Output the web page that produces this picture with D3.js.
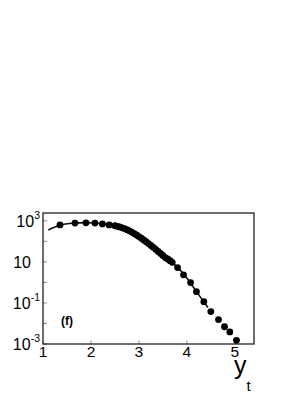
<!DOCTYPE html>
<html>
<head>
<meta charset="utf-8">
<script src="https://cdn.jsdelivr.net/npm/d3@7"></script>
<style>
  body { margin: 0; background: #fff; }
  svg { display: block; font-family: "Liberation Sans", Arial, sans-serif; }
</style>
</head>
<body>
<svg width="305" height="394"></svg>
<script>
// data points (y_t, log10 of yield)
var ptX = [1.354, 1.667, 1.896, 2.083, 2.24, 2.38, 2.5,
           2.55, 2.6, 2.65, 2.7, 2.75, 2.8, 2.85, 2.9, 2.95, 3.0,
           3.05, 3.1, 3.15, 3.2, 3.25, 3.3, 3.35, 3.4, 3.45, 3.5,
           3.55, 3.6, 3.65, 3.694, 3.806, 3.93, 4.077, 4.2, 4.354,
           4.5, 4.66, 4.785, 4.896, 5.035];
var ptLogY = [2.80, 2.89, 2.90, 2.89, 2.85, 2.80, 2.76,
              2.73, 2.70, 2.66, 2.62, 2.57, 2.51, 2.45, 2.38, 2.31, 2.23,
              2.15, 2.07, 1.98, 1.89, 1.80, 1.71, 1.61, 1.51, 1.41, 1.31,
              1.21, 1.14, 1.06, 0.98, 0.72, 0.37, -0.01, -0.45, -0.94,
              -1.42, -1.81, -2.16, -2.41, -2.82];

// fit curve
var fitX = [1.11, 1.35, 1.6, 1.9, 2.2, 2.5, 2.8, 3.1, 3.4, 3.7, 4.0, 4.2, 4.44];
var fitLogY = [2.55, 2.78, 2.88, 2.91, 2.87, 2.74, 2.51, 2.07, 1.51, 0.96, 0.22, -0.45, -1.22];

var xTicks = [1, 2, 3, 4, 5];
var yTicks = [1e-3, 1e-2, 1e-1, 1, 10, 100, 1000];
var yLabels = [{v: 1e-3, base: '10', exp: '-3'}, {v: 1e-1, base: '10', exp: '-1'},
               {v: 10, base: '10', exp: ''}, {v: 1e3, base: '10', exp: '3'}];

var svg = d3.select('svg');

var x = d3.scaleLinear().domain([1, 5.4]).range([43, 254]);
var y = d3.scaleLog().domain([1e-3, Math.pow(10, 3.38)]).range([344, 213]);

// ticks
svg.append('g').selectAll('line').data(xTicks).enter().append('line')
    .attr('x1', function(d){ return x(d); })
    .attr('x2', function(d){ return x(d); })
    .attr('y1', 344).attr('y2', 340.5)
    .attr('stroke', '#888').attr('stroke-width', 1);

svg.append('g').selectAll('line').data(yTicks).enter().append('line')
    .attr('x1', 43).attr('x2', 47)
    .attr('y1', function(d){ return y(d); })
    .attr('y2', function(d){ return y(d); })
    .attr('stroke', '#888').attr('stroke-width', 1);

// frame
svg.append('rect')
    .attr('x', 43).attr('y', 213)
    .attr('width', 211).attr('height', 131)
    .attr('fill', 'none').attr('stroke', '#222').attr('stroke-width', 1.3);

// x labels
svg.append('g').selectAll('text').data(xTicks).enter().append('text')
    .attr('x', function(d){ return x(d); })
    .attr('y', 357)
    .attr('text-anchor', 'middle')
    .attr('font-size', 15.5)
    .text(function(d){ return d; });

// y labels
var yl = svg.append('g').selectAll('text').data(yLabels).enter().append('text')
    .attr('x', function(d){ return d.exp ? 40 : 31; })
    .attr('y', function(d){ return y(d.v) + 6; })
    .attr('text-anchor', 'end')
    .attr('font-size', 16);
yl.append('tspan').text(function(d){ return d.base; });
yl.append('tspan')
    .attr('font-size', 10.5)
    .attr('dy', -8)
    .text(function(d){ return d.exp; });

// fit line
var line = d3.line()
    .x(function(d){ return x(d[0]); })
    .y(function(d){ return y(Math.pow(10, d[1])); })
    .curve(d3.curveMonotoneX);
svg.append('path')
    .datum(d3.zip(fitX, fitLogY))
    .attr('d', line)
    .attr('fill', 'none').attr('stroke', '#111').attr('stroke-width', 1.6);

// points
svg.append('g').selectAll('circle').data(d3.zip(ptX, ptLogY)).enter().append('circle')
    .attr('cx', function(d){ return x(d[0]); })
    .attr('cy', function(d){ return y(Math.pow(10, d[1])); })
    .attr('r', 3.4)
    .attr('fill', '#000');

// panel tag
svg.append('text')
    .attr('x', 61).attr('y', 325)
    .attr('font-size', 12).attr('font-weight', 'bold')
    .text('(f)');

// axis title
var t = svg.append('text').attr('x', 234).attr('y', 374).attr('font-size', 25);
t.append('tspan').text('y');
t.append('tspan').attr('font-size', 15).attr('dy', 17).text('t');
</script>
</body>
</html>
